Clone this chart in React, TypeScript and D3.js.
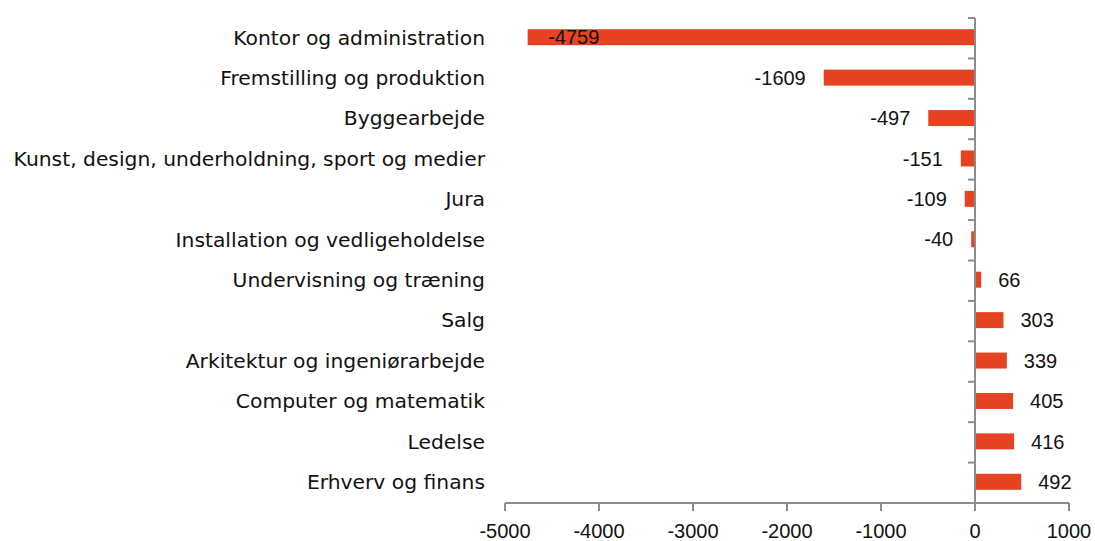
import React from "react";
import * as d3 from "d3";

const categories = [
  "Kontor og administration",
  "Fremstilling og produktion",
  "Byggearbejde",
  "Kunst, design, underholdning, sport og medier",
  "Jura",
  "Installation og vedligeholdelse",
  "Undervisning og træning",
  "Salg",
  "Arkitektur og ingeniørarbejde",
  "Computer og matematik",
  "Ledelse",
  "Erhverv og finans",
];
const values = [-4759, -1609, -497, -151, -109, -40, 66, 303, 339, 405, 416, 492];
const xTicks = [-5000, -4000, -3000, -2000, -1000, 0, 1000];

const W = 1095;
const H = 541;
const CAT_FONT = "'DejaVu Sans', sans-serif";
const NUM_FONT = "'Liberation Sans', Arial, sans-serif";
const BAR = "#E64322";
const AXIS = "#8c8c8c";

export default function App() {
  const x = d3.scaleLinear().domain([-5000, 1000]).range([505, 1069]);
  const band = d3.scaleBand().domain(categories).range([18, 503]);
  const x0 = x(0);
  const bh = 16;

  return (
    <svg width={W} height={H} style={{ position: "absolute", left: 0, top: 0, background: "#fff" }}>
      {categories.map((c, i) => {
        const v = values[i];
        const cy = (band(c) as number) + band.bandwidth() / 2 - 1;
        const xv = x(v);
        const bx = Math.min(xv, x0);
        const bw = Math.abs(xv - x0);
        let lx: number;
        let anchor: "start" | "end";
        if (v >= 0) {
          lx = xv + 17;
          anchor = "start";
        } else if (xv - 18 - 55 < x.range()[0]) {
          lx = xv + 20.5;
          anchor = "start";
        } else {
          lx = xv - 18;
          anchor = "end";
        }
        return (
          <g key={c}>
            <rect x={bx} y={cy - bh / 2} width={bw} height={bh} fill={BAR} />
            <text x={lx} y={cy} dy="0.36em" textAnchor={anchor} fontFamily={NUM_FONT} fontSize={20} fill="#111">
              {v}
            </text>
            <text x={485} y={cy} dy="0.36em" textAnchor="end" fontFamily={CAT_FONT} fontSize={20.3} fill="#111">
              {c}
            </text>
          </g>
        );
      })}
      {/* vertical axis */}
      <line x1={x0} x2={x0} y1={18} y2={503} stroke={AXIS} strokeWidth={2} />
      {d3.range(categories.length + 1).map((i) => {
        const yy = 18 + i * band.step();
        return <line key={i} x1={x0 - 7} x2={x0} y1={yy} y2={yy} stroke={AXIS} strokeWidth={2} />;
      })}
      {/* horizontal axis */}
      <line x1={x(-5000)} x2={x(1000)} y1={503} y2={503} stroke={AXIS} strokeWidth={2} />
      {xTicks.map((t) => (
        <g key={t}>
          <line x1={x(t)} x2={x(t)} y1={503} y2={511} stroke={AXIS} strokeWidth={2} />
          <text x={x(t)} y={538} textAnchor="middle" fontFamily={NUM_FONT} fontSize={20} fill="#111">
            {t}
          </text>
        </g>
      ))}
    </svg>
  );
}
